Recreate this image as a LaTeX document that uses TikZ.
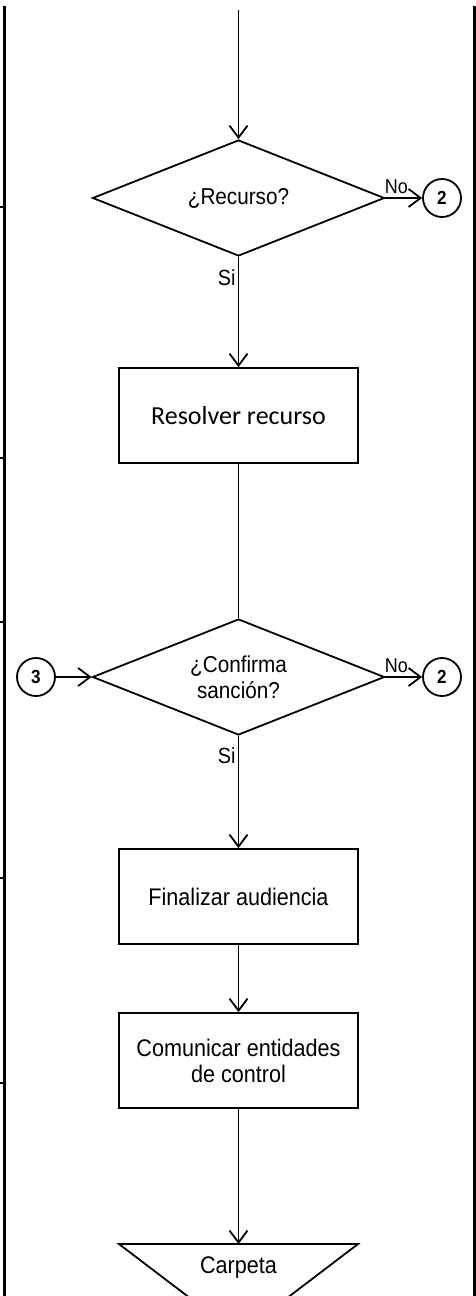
\documentclass[tikz,border=0pt]{standalone}
\usepackage{fontspec}
\setmainfont{Liberation Sans}[FakeStretch=0.9]
\newfontfamily\calfont{Carlito}
\usetikzlibrary{shapes.geometric,arrows.meta}

\begin{document}
\begin{tikzpicture}[x=1pt,y=-1pt,line width=1.8pt,
  flecha/.style={-{Straight Barb[length=12pt,width=18pt]}},
  decision/.style={diamond,draw,minimum width=292pt,minimum height=116pt,inner sep=0pt,aspect=2.5,align=center,font=\fontsize{23}{26}\selectfont},
  caja/.style={rectangle,draw,minimum width=239pt,minimum height=95pt,align=center,font=\fontsize{24}{26}\selectfont},
  conector/.style={circle,draw,minimum size=38pt,inner sep=0pt,font=\bfseries\fontsize{19}{22}\selectfont},
  etiqueta/.style={inner sep=0pt,font=\fontsize{22}{24}\selectfont}]
   \useasboundingbox (0,0) rectangle (476,1296);

   \draw[line width=3pt] (4.5,6) -- (4.5,1296);
   \draw[line width=3pt] (474,6) -- (474,1296);
   \foreach \y in {207,458,622,878,1083}
      \draw[line width=2pt] (0,\y) -- (4.5,\y);

   \coordinate (inicio) at (238.5,10);
   \node[decision] (recurso) at (238.5,198) {¿Recurso?};
   \node[conector] (dosA) at (442,198) {2};
   \node[caja,font=\calfont\fontsize{26}{30}\selectfont] (resolver) at (238.5,415.5) {Resolver recurso};
   \node[decision] (confirma) at (238.5,677) {¿Confirma\\sanción?};
   \node[conector] (tres) at (36,677) {3};
   \node[conector] (dosB) at (442,677) {2};
   \node[caja] (finalizar) at (238.5,896.5) {Finalizar audiencia};
   \node[caja] (comunicar) at (238.5,1060.5) {Comunicar entidades\\de control};
   \coordinate (carpeta) at (238.5,1244);
   \draw (119,1244) -- (358,1244) -- (238.5,1335) -- cycle;
   \node[font=\fontsize{24}{26}\selectfont] (carptxt) at (238.5,1268) {Carpeta};

   \draw[flecha] (inicio) -- (recurso.north);
   \draw[flecha] (recurso.east) -- node[etiqueta,above=3pt,pos=0.3,font=\fontsize{20}{24}\selectfont] {No} (dosA.west);
   \draw[flecha] (recurso.south) -- node[etiqueta,left=2pt,pos=0.19] {Si} (resolver.north);
   \draw (resolver.south) -- (confirma.north);
   \draw[flecha] (tres.east) -- (confirma.west);
   \draw[flecha] (confirma.east) -- node[etiqueta,above=3pt,pos=0.3,font=\fontsize{20}{24}\selectfont] {No} (dosB.west);
   \draw[flecha] (confirma.south) -- node[etiqueta,left=2pt,pos=0.18] {Si} (finalizar.north);
   \draw[flecha] (finalizar.south) -- (comunicar.north);
   \draw[flecha] (comunicar.south) -- (carpeta);
\end{tikzpicture}
\end{document}
